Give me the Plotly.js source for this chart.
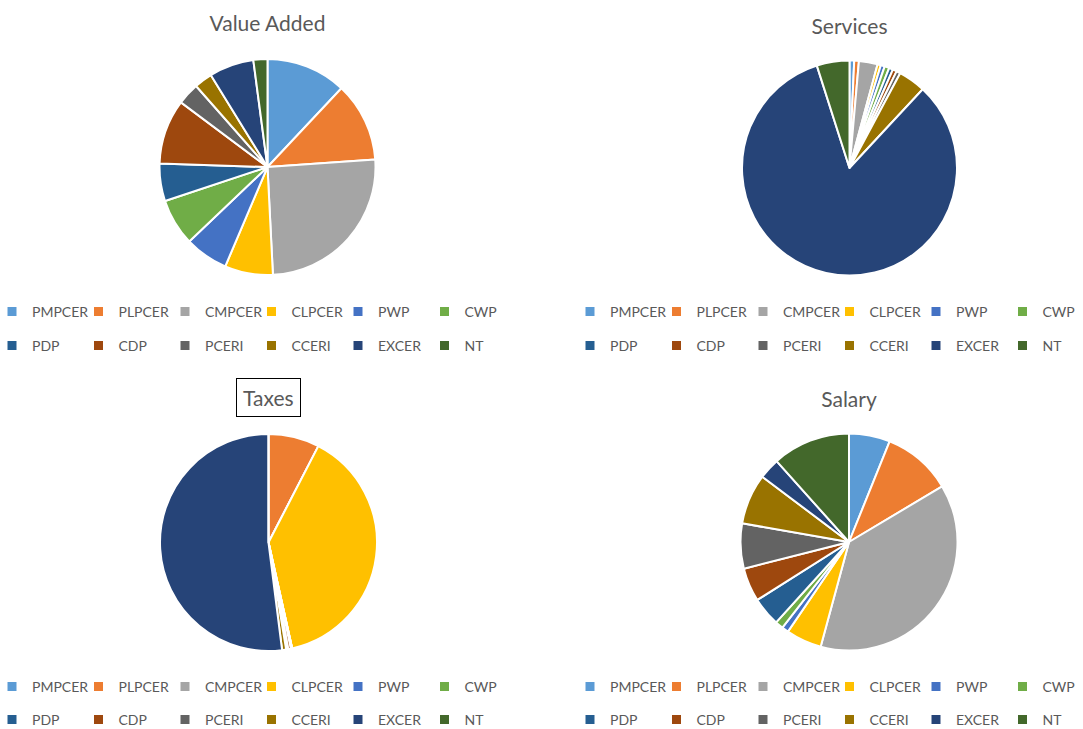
<!DOCTYPE html>
<html>
<head>
<meta charset="utf-8">
<script src="https://cdn.plot.ly/plotly-3.0.1.min.js"></script>
<style>
  body { margin: 0; overflow: hidden; background: #fff; width: 1083px; height: 729px; }
  .chart { position: absolute; width: 541px; }
</style>
</head>
<body>
<div id="value-added" class="chart" style="left:-8px; top:0; height:364px;"></div>
<div id="services" class="chart" style="left:570px; top:0; height:364px;"></div>
<div id="taxes" class="chart" style="left:-8px; top:364px; height:365px;"></div>
<div id="salary" class="chart" style="left:570px; top:364px; height:365px;"></div>
<script>
// categories, in slice order (clockwise from 12 o'clock)
var categories = ["PMPCER", "PLPCER", "CMPCER", "CLPCER", "PWP", "CWP",
                  "PDP", "CDP", "PCERI", "CCERI", "EXCER", "NT"];
var sliceColors = ["#5B9BD5", "#ED7D31", "#A5A5A5", "#FFC000", "#4472C4", "#70AD47",
                   "#255E91", "#9E480E", "#636363", "#997300", "#264478", "#43682B"];

// shares in percent
var valueAdded = [12.0, 11.9, 25.3, 7.2, 6.5, 7.0, 5.6, 9.7, 3.3, 2.7, 6.7, 2.1];
var services   = [0.7, 0.7, 2.8, 0.5, 0.6, 0.7, 0.6, 0.6, 0.6, 4.1, 83.0, 4.9];
var taxes      = [0, 7.6, 0, 38.9, 0, 0, 0.2, 0.4, 0.3, 0.6, 52.0, 0];
var salary     = [6.1, 10.3, 37.7, 5.3, 1.0, 1.2, 4.3, 5.0, 6.7, 7.5, 3.1, 11.6];

var W = 541;
var textColor = "#595959";
var fontFamily = "Lato, 'Open Sans', sans-serif";

function drawPie(divId, title, values, H, cx, cy, r, titleY, legendY, boxed) {
  var pie = {
    type: "pie",
    labels: categories,
    values: values,
    sort: false,
    direction: "clockwise",
    rotation: 0,
    textinfo: "none",
    hoverinfo: "label+percent",
    showlegend: false,
    marker: {colors: sliceColors, line: {color: "#ffffff", width: 2}},
    domain: {x: [(cx - r) / W, (cx + r) / W], y: [1 - (cy + r) / H, 1 - (cy - r) / H]}
  };
  // legend rows: two label-only pies tucked into a corner, one per legend row
  var row1 = {
    type: "pie",
    labels: categories.slice(0, 6),
    sort: false,
    textinfo: "none",
    hoverinfo: "skip",
    legend: "legend",
    marker: {colors: sliceColors.slice(0, 6), line: {color: "#ffffff", width: 3}},
    domain: {x: [0, 0.001], y: [0, 0.001]}
  };
  var row2 = {
    type: "pie",
    labels: categories.slice(6),
    sort: false,
    textinfo: "none",
    hoverinfo: "skip",
    legend: "legend2",
    marker: {colors: sliceColors.slice(6), line: {color: "#ffffff", width: 3}},
    domain: {x: [0, 0.001], y: [0, 0.001]}
  };

  var legendBase = {
    orientation: "h",
    entrywidth: 41.5,
    entrywidthmode: "pixels",
    x: 0,
    xanchor: "left",
    yanchor: "middle",
    font: {family: fontFamily, size: 14, color: textColor}
  };

  var layout = {
    width: W,
    height: H,
    margin: {l: 0, r: 0, t: 0, b: 0, autoexpand: false},
    paper_bgcolor: "#ffffff",
    showlegend: true,
    legend: Object.assign({}, legendBase, {y: 1 - legendY[0] / H}),
    legend2: Object.assign({}, legendBase, {y: 1 - legendY[1] / H}),
    annotations: []
  };

  var titleFont = {family: fontFamily, size: 21, color: textColor};
  if (boxed) {
    layout.annotations.push({
      text: title, x: cx / W, y: 1 - titleY / H, xref: "paper", yref: "paper",
      xanchor: "center", yanchor: "middle", showarrow: false, font: titleFont,
      bordercolor: "#000000", borderwidth: 1, borderpad: 6
    });
  } else {
    layout.title = {
      text: title, font: titleFont,
      x: cx / W, xref: "paper", xanchor: "center",
      y: 1 - titleY / H, yref: "container", yanchor: "middle"
    };
  }

  Plotly.newPlot(divId, [pie, row1, row2], layout, {displayModeBar: false});
}

drawPie("value-added", "Value Added", valueAdded, 364, 275.5, 167, 108, 24, [312, 346], false);
drawPie("services", "Services", services, 364, 279.5, 168, 107.5, 27, [312, 346], false);
drawPie("taxes", "Taxes", taxes, 365, 276.5, 178.5, 108.5, 33.5, [323, 356], true);
drawPie("salary", "Salary", salary, 365, 279, 178, 108.5, 36, [323, 356], false);
</script>
</body>
</html>
